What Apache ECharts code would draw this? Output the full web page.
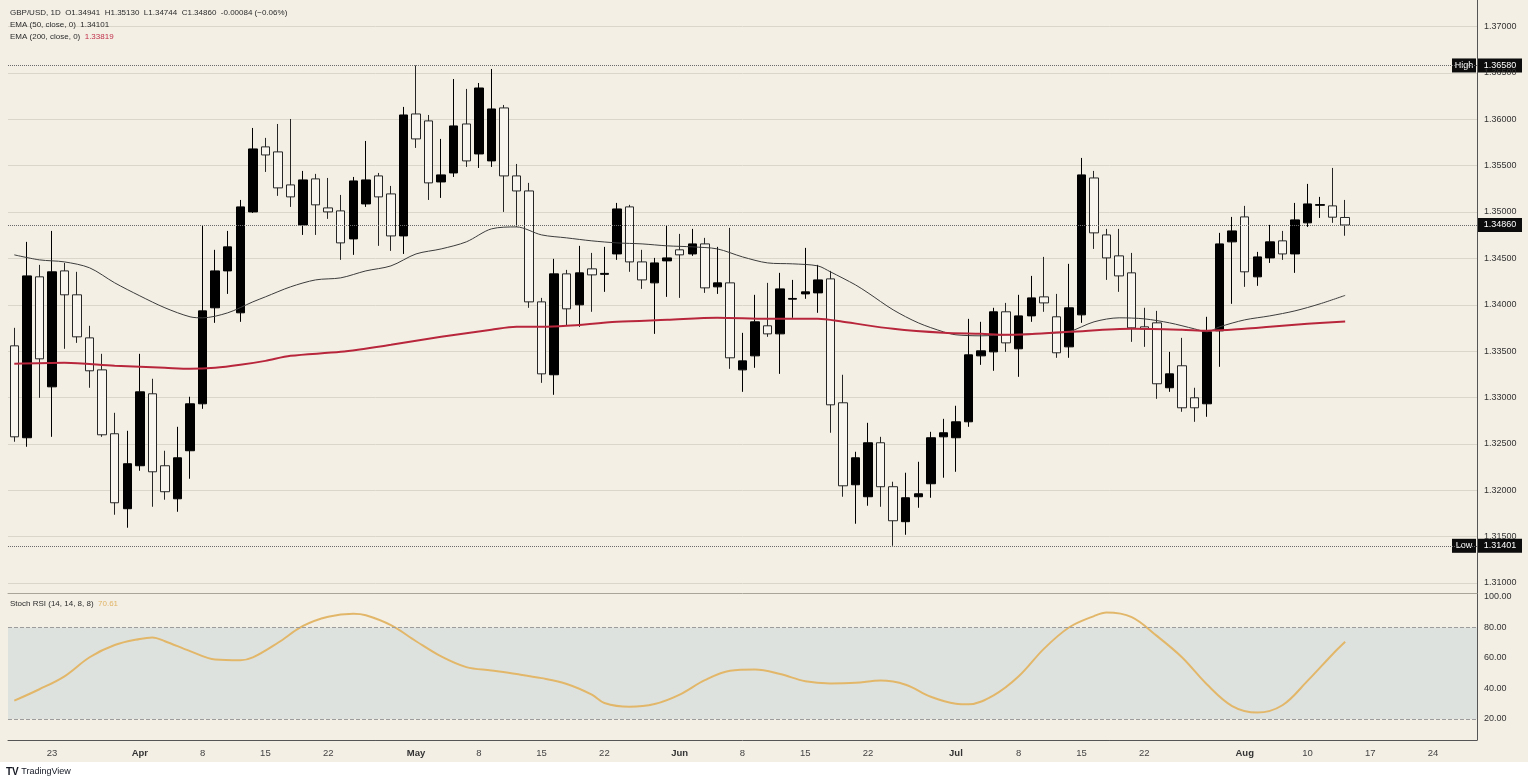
<!DOCTYPE html>
<html>
<head>
<meta charset="utf-8">
<title>GBP/USD 1D</title>
<script src="https://cdn.jsdelivr.net/npm/echarts@6/dist/echarts.min.js"></script>
<style>
  html, body { margin: 0; padding: 0; background: #fff; }
  #chart { width: 1528px; height: 784px; }
</style>
</head>
<body>
<div id="chart"></div>
<script>
// daily candles, oldest first
const opens = [
  1.33557, 1.32566, 1.34301, 1.33115, 1.34365, 1.34107, 1.33643, 1.33298, 1.32609, 1.31801,
  1.32264, 1.33040, 1.32264, 1.31908, 1.32426, 1.32932, 1.33967, 1.34365, 1.33913, 1.35001,
  1.35702, 1.35648, 1.35292, 1.34861, 1.35357, 1.35044, 1.35012, 1.34710, 1.35087, 1.35389,
  1.35195, 1.34742, 1.36057, 1.35982, 1.35324, 1.35421, 1.35949, 1.35626, 1.35551, 1.36122,
  1.35389, 1.35227, 1.34031, 1.33245, 1.34333, 1.33999, 1.34387, 1.34328, 1.34548, 1.35055,
  1.34462, 1.34236, 1.34473, 1.34592, 1.34548, 1.34656, 1.34193, 1.34236, 1.33298, 1.33449,
  1.33773, 1.33686, 1.34060, 1.34117, 1.34128, 1.34279, 1.32943, 1.32059, 1.31930, 1.32512,
  1.32038, 1.31661, 1.31930, 1.32070, 1.32576, 1.32566, 1.32738, 1.33449, 1.33492, 1.33924,
  1.33525, 1.33880, 1.34085, 1.33870, 1.33546, 1.33891, 1.35367, 1.34753, 1.34527, 1.34344,
  1.33762, 1.33805, 1.33105, 1.33342, 1.32997, 1.32932, 1.33719, 1.34678, 1.34947, 1.34301,
  1.34505, 1.34689, 1.34548, 1.34883, 1.35072, 1.35066, 1.34941
];
const closes = [
  1.32576, 1.34311, 1.33417, 1.34355, 1.34107, 1.33654, 1.33288, 1.32598, 1.31865, 1.32286,
  1.33061, 1.32199, 1.31984, 1.32350, 1.32932, 1.33934, 1.34365, 1.34624, 1.35055, 1.35680,
  1.35615, 1.35260, 1.35163, 1.35346, 1.35077, 1.35001, 1.34667, 1.35335, 1.35346, 1.35163,
  1.34742, 1.36046, 1.35788, 1.35314, 1.35400, 1.35928, 1.35551, 1.36337, 1.36111, 1.35389,
  1.35227, 1.34031, 1.33255, 1.34333, 1.33956, 1.34344, 1.34322, 1.34338, 1.35033, 1.34462,
  1.34268, 1.34451, 1.34505, 1.34538, 1.34656, 1.34182, 1.34236, 1.33428, 1.33395, 1.33816,
  1.33686, 1.34171, 1.34068, 1.34139, 1.34268, 1.32921, 1.32048, 1.32350, 1.32512, 1.32038,
  1.31671, 1.31919, 1.31962, 1.32566, 1.32620, 1.32738, 1.33460, 1.33503, 1.33924, 1.33589,
  1.33880, 1.34074, 1.34020, 1.33482, 1.33967, 1.35400, 1.34775, 1.34505, 1.34311, 1.33751,
  1.33740, 1.33148, 1.33255, 1.32889, 1.32889, 1.33708, 1.34656, 1.34796, 1.34355, 1.34516,
  1.34678, 1.34548, 1.34915, 1.35087, 1.35080, 1.34944, 1.34860
];
const lows = [
  1.32523, 1.32469, 1.32997, 1.32576, 1.33525, 1.33589, 1.33105, 1.32576, 1.31736, 1.31596,
  1.32210, 1.31822, 1.31898, 1.31768, 1.32124, 1.32878, 1.33805, 1.34117, 1.33816, 1.34990,
  1.35432, 1.35174, 1.35055, 1.34753, 1.34753, 1.34926, 1.34484, 1.34538, 1.35055, 1.34635,
  1.34581, 1.34548, 1.35691, 1.35130, 1.35152, 1.35378, 1.35486, 1.35475, 1.35486, 1.35001,
  1.34839, 1.33967, 1.33158, 1.33029, 1.33773, 1.33762, 1.33924, 1.34139, 1.34484, 1.34355,
  1.34171, 1.33686, 1.34085, 1.34074, 1.34527, 1.34128, 1.34117, 1.33309, 1.33061, 1.33320,
  1.33654, 1.33255, 1.33859, 1.34064, 1.33913, 1.32620, 1.31930, 1.31639, 1.31833, 1.31822,
  1.31401, 1.31520, 1.31811, 1.31919, 1.32135, 1.32199, 1.32684, 1.33352, 1.33288, 1.33492,
  1.33223, 1.33816, 1.33924, 1.33428, 1.33428, 1.33805, 1.34602, 1.34268, 1.34139, 1.33600,
  1.33546, 1.32986, 1.33061, 1.32846, 1.32738, 1.32792, 1.33331, 1.34010, 1.34193, 1.34204,
  1.34451, 1.34484, 1.34344, 1.34839, 1.34936, 1.34883, 1.34744
];
const highs = [
  1.33751, 1.34678, 1.34430, 1.34796, 1.34451, 1.34355, 1.33773, 1.33471, 1.32835, 1.32641,
  1.33471, 1.33202, 1.32426, 1.32684, 1.33008, 1.34850, 1.34592, 1.34796, 1.35130, 1.35906,
  1.35799, 1.35949, 1.36003, 1.35443, 1.35411, 1.35367, 1.35184, 1.35378, 1.35766, 1.35421,
  1.35281, 1.36133, 1.36580, 1.36046, 1.35788, 1.36434, 1.36327, 1.36391, 1.36542, 1.36154,
  1.35518, 1.35314, 1.34074, 1.34495, 1.34376, 1.34635, 1.34559, 1.34624, 1.35098, 1.35077,
  1.34592, 1.34505, 1.34850, 1.34764, 1.34818, 1.34721, 1.34624, 1.34829, 1.33697, 1.34107,
  1.34236, 1.34344, 1.34268, 1.34613, 1.34430, 1.34365, 1.33245, 1.32415, 1.32727, 1.32576,
  1.32092, 1.32189, 1.32307, 1.32630, 1.32770, 1.32911, 1.33848, 1.33816, 1.33967, 1.34020,
  1.34107, 1.34311, 1.34516, 1.34117, 1.34441, 1.35583, 1.35443, 1.34818, 1.34818, 1.34559,
  1.33967, 1.33934, 1.33492, 1.33643, 1.33105, 1.33870, 1.34775, 1.34947, 1.35066, 1.34570,
  1.34861, 1.34796, 1.35098, 1.35303, 1.35163, 1.35475, 1.35130
];

// moving averages (candle index -> value)
const ema50Idx = [0, 2, 4, 6, 8, 10, 12, 14, 15, 17, 19, 20, 22, 24, 26, 28, 30, 32, 34, 36,
  38, 40, 42, 44, 46, 48, 50, 52, 54, 56, 58, 60, 62, 64, 65, 67, 68, 70, 72, 74,
  75, 77, 79, 81, 83, 84, 86, 88, 90, 92, 94, 95, 96, 98, 100, 102, 104, 106];
const ema50Val = [1.34538, 1.34484, 1.34462, 1.34398, 1.34236, 1.34096, 1.33967, 1.33870, 1.33859, 1.33913,
  1.34031, 1.34085, 1.34193, 1.34268, 1.34290, 1.34365, 1.34419, 1.34548, 1.34602, 1.34678,
  1.34818, 1.34839, 1.34753, 1.34721, 1.34689, 1.34667, 1.34656, 1.34635, 1.34624, 1.34602,
  1.34516, 1.34451, 1.34441, 1.34419, 1.34355, 1.34214, 1.34128, 1.33945, 1.33805, 1.33708,
  1.33676, 1.33665, 1.33676, 1.33686, 1.33697, 1.33708, 1.33816, 1.33859, 1.33848, 1.33805,
  1.33740, 1.33708, 1.33762, 1.33837, 1.33880, 1.33934, 1.34010, 1.34101];
const ema200Idx = [0, 4, 8, 12, 14, 16, 18, 20, 22, 26, 30, 34, 38, 40, 42, 44, 48, 52, 56, 60,
  64, 66, 70, 74, 77, 79, 84, 89, 93, 95, 98, 100, 103, 106];
const ema200Val = [1.33363, 1.33374, 1.33342, 1.33320, 1.33309, 1.33320, 1.33352, 1.33395, 1.33449, 1.33492,
  1.33568, 1.33654, 1.33730, 1.33762, 1.33762, 1.33773, 1.33816, 1.33837, 1.33859, 1.33848,
  1.33848, 1.33816, 1.33740, 1.33697, 1.33686, 1.33676, 1.33708, 1.33740, 1.33730, 1.33719,
  1.33740, 1.33762, 1.33794, 1.33819];

// stoch rsi, sampled
const rsiIdx = [0, 2, 4, 6, 8, 10, 11, 12, 14, 16, 18, 19, 21, 23, 25, 27, 28, 30, 32, 34,
  36, 38, 40, 42, 44, 46, 47, 49, 51, 53, 55, 57, 59, 61, 63, 65, 67, 69, 71, 73,
  75, 76, 78, 80, 82, 84, 86, 87, 89, 91, 93, 95, 97, 99, 101, 103, 105, 106];
const rsiVal = [32, 39.5, 48, 60.5, 68.5, 72.5, 73.5, 71, 64.5, 59,
  58.5, 60.4, 70, 81, 87, 89, 88, 81.5, 71, 61,
  54, 51.8, 49.5, 46.8, 43, 36, 30.5, 28, 29.8, 36,
  45.5, 51.7, 52.5, 49.5, 44.7, 43.3, 43.7, 45.2, 42.5, 34.6,
  30, 29.6, 35.5, 48, 66, 80, 87.5, 89.8, 86.8, 74.5,
  60.5, 42.6, 28.5, 24.2, 29, 45, 62.5, 70.61];

// date axis labels (slot index -> text)
const xTickIdx = [3, 10, 15, 20, 25, 32, 37, 42, 47, 53, 58, 63, 68, 75, 80, 85, 90, 98, 103, 108, 113];
const xTickText = ['23', 'Apr', '8', '15', '22', 'May', '8', '15', '22', 'Jun', '8', '15', '22',
  'Jul', '8', '15', '22', 'Aug', '10', '17', '24'];
const monthNames = ['Apr', 'May', 'Jun', 'Jul', 'Aug'];

const slotCount = 117;   // candles plus empty space on the right
const rsiBand = [20, 80];

const FONT = 'Liberation Sans, Arial, sans-serif';
const BG = '#f3efe5';
const gridLeft = 8, gridRight = 51;

const n = opens.length;
const last = n - 1;
const sessionHigh = Math.max(...highs);
const sessionLow = Math.min(...lows);
const lastClose = closes[last];

const slots = Array.from({ length: slotCount }, (_, i) => String(i));
const candles = opens.map((o, i) => [o, closes[i], lows[i], highs[i]]);

function sparse(idx, vals) {
  const out = new Array(n).fill(null);
  idx.forEach((k, j) => { out[k] = vals[j]; });
  return out;
}

const change = closes[last] - closes[last - 1];
const pct = change / closes[last - 1] * 100;
const fmt = v => v.toFixed(5);
const headerText = 'GBP/USD, 1D  O' + fmt(opens[last]) + '  H' + fmt(highs[last]) +
  '  L' + fmt(lows[last]) + '  C' + fmt(closes[last]) + '  ' +
  (change < 0 ? '-' : '+') + Math.abs(change).toFixed(5) +
  ' (' + (pct < 0 ? '\u2212' : '+') + Math.abs(pct).toFixed(2) + '%)';

const labelMap = {};
xTickIdx.forEach((k, j) => { labelMap[k] = xTickText[j]; });

const smallText = { fontFamily: FONT, fontSize: 8, fontWeight: 'normal', color: '#2b2b2b' };

const option = {
  animation: false,
  backgroundColor: BG,
  title: [
    { left: 10, top: 9, padding: 0, text: headerText, textStyle: smallText },
    { left: 10, top: 21, padding: 0, text: 'EMA (50, close, 0)  ' + fmt(ema50Val[ema50Val.length - 1]), textStyle: smallText },
    {
      left: 10, top: 33, padding: 0,
      text: '{a|EMA (200, close, 0)}  {b|' + fmt(ema200Val[ema200Val.length - 1]) + '}',
      textStyle: Object.assign({}, smallText, { rich: { a: smallText, b: Object.assign({}, smallText, { color: '#c0304a' }) } })
    },
    {
      left: 10, top: 600, padding: 0,
      text: '{a|Stoch RSI (14, 14, 8, 8)}  {b|' + rsiVal[rsiVal.length - 1].toFixed(2) + '}',
      textStyle: Object.assign({}, smallText, { rich: { a: smallText, b: Object.assign({}, smallText, { color: '#e0b466' }) } })
    },
    {
      left: 6, top: 767, padding: 0,
      text: '{l|TV} TradingView',
      textStyle: { fontFamily: FONT, fontSize: 9, fontWeight: 'normal', color: '#131722',
        rich: { l: { fontFamily: FONT, fontSize: 10, fontWeight: 'bold', color: '#131722' } } }
    }
  ],
  grid: [
    { left: gridLeft, right: gridRight, top: 26.5, height: 556.5 },
    { left: gridLeft, right: gridRight, top: 597, height: 122 },
    { left: gridLeft, right: gridRight, top: 0, height: 740 }
  ],
  xAxis: [
    {
      type: 'category', gridIndex: 0, data: slots, boundaryGap: true,
      offset: 10,
      axisLine: { show: true, lineStyle: { color: '#a9a599', width: 1 } },
      axisTick: { show: false }, axisLabel: { show: false }, splitLine: { show: false }
    },
    {
      type: 'category', gridIndex: 1, data: slots, boundaryGap: true,
      offset: 21,
      axisLine: { show: true, lineStyle: { color: '#555', width: 1 } },
      axisTick: { show: false }, splitLine: { show: false },
      axisLabel: {
        interval: (index) => labelMap[index] !== undefined,
        formatter: (value, index) => {
          const t = labelMap[index];
          if (t === undefined) return '';
          return monthNames.includes(t) ? '{m|' + t + '}' : t;
        },
        fontFamily: FONT, fontSize: 9.5, color: '#444', margin: 8,
        rich: { m: { fontFamily: FONT, fontSize: 9.5, fontWeight: 'bold', color: '#333' } }
      }
    },
    { type: 'category', gridIndex: 2, data: slots, show: false }
  ],
  yAxis: [
    {
      type: 'value', gridIndex: 0, position: 'right',
      min: 1.31, max: 1.37, interval: 0.005,
      axisLine: { show: false }, axisTick: { show: false },
      axisLabel: { formatter: v => v.toFixed(5), fontFamily: FONT, fontSize: 9, color: '#333', margin: 7 },
      splitLine: { show: true, lineStyle: { color: '#dbd6ca', width: 1 } }
    },
    {
      type: 'value', gridIndex: 1, position: 'right',
      min: 20, max: 100, interval: 20,
      axisLine: { show: false }, axisTick: { show: false },
      axisLabel: { formatter: v => v.toFixed(2), fontFamily: FONT, fontSize: 9, color: '#333', margin: 7 },
      splitLine: { show: true, lineStyle: { color: ['transparent', '#c6cac6', '#c6cac6', 'transparent', 'transparent'], width: 1 } }
    },
    {
      type: 'value', gridIndex: 2, position: 'right',
      axisLine: { show: true, lineStyle: { color: '#555', width: 1 } },
      axisTick: { show: false }, axisLabel: { show: false }, splitLine: { show: false }
    }
  ],
  series: [
    {
      name: 'GBP/USD', type: 'candlestick', xAxisIndex: 0, yAxisIndex: 0,
      data: candles, barWidth: 9,
      itemStyle: { color: '#000', color0: '#f8f5ee', borderColor: '#000', borderColor0: '#262626', borderWidth: 1 },
      markLine: {
        silent: true, symbol: 'none', precision: 5,
        label: { show: false },
        lineStyle: { type: 'dotted', color: '#6a6a6a', width: 1 },
        data: [{ yAxis: sessionHigh }, { yAxis: sessionLow }, { yAxis: lastClose }]
      }
    },
    {
      name: 'EMA 50', type: 'line', xAxisIndex: 0, yAxisIndex: 0,
      data: sparse(ema50Idx, ema50Val), connectNulls: true, smooth: 0.3,
      showSymbol: false, symbol: 'none',
      lineStyle: { color: '#3c3c3c', width: 1 }
    },
    {
      name: 'EMA 200', type: 'line', xAxisIndex: 0, yAxisIndex: 0,
      data: sparse(ema200Idx, ema200Val), connectNulls: true, smooth: 0.3,
      showSymbol: false, symbol: 'none',
      lineStyle: { color: '#b8263c', width: 2 }
    },
    {
      name: 'Stoch RSI', type: 'line', xAxisIndex: 1, yAxisIndex: 1,
      data: sparse(rsiIdx, rsiVal), connectNulls: true, smooth: 0.35,
      showSymbol: false, symbol: 'none',
      lineStyle: { color: '#e2b76a', width: 2 },
      markArea: {
        silent: true,
        itemStyle: { color: '#dde2df' },
        data: [[{ yAxis: rsiBand[0] }, { yAxis: rsiBand[1] }]]
      },
      markLine: {
        silent: true, symbol: 'none', label: { show: false },
        lineStyle: { type: 'dashed', color: '#9c9c9c', width: 1 },
        data: [{ yAxis: rsiBand[0] }, { yAxis: rsiBand[1] }]
      }
    }
  ]
};

const chart = echarts.init(document.getElementById('chart'));
chart.setOption(option);

// price tags on the right axis, placed through the axis scale
const axisX = chart.getWidth() - gridRight;
function tagBox(x, y, w, text) {
  return {
    type: 'group', z: 100,
    children: [
      { type: 'rect', shape: { x: x, y: y - 7, width: w, height: 14 }, style: { fill: '#0c0c0c' } },
      {
        type: 'text', x: x + w / 2, y: y,
        style: { text: text, fill: '#fff', font: '9px ' + FONT, textAlign: 'center', textVerticalAlign: 'middle' }
      }
    ]
  };
}
const yHigh = chart.convertToPixel({ yAxisIndex: 0 }, sessionHigh);
const yLow = chart.convertToPixel({ yAxisIndex: 0 }, sessionLow);
const yLast = chart.convertToPixel({ yAxisIndex: 0 }, lastClose);

chart.setOption({
  graphic: [
    { type: 'rect', z: 0, shape: { x: 0, y: 762, width: chart.getWidth(), height: chart.getHeight() - 762 }, style: { fill: '#fff' } },
    tagBox(axisX - 25, yHigh, 24, 'High'),
    tagBox(axisX + 1, yHigh, 44, fmt(sessionHigh)),
    tagBox(axisX - 25, yLow, 24, 'Low'),
    tagBox(axisX + 1, yLow, 44, fmt(sessionLow)),
    tagBox(axisX + 1, yLast, 44, fmt(lastClose))
  ]
});

window.addEventListener('resize', () => chart.resize());
</script>
</body>
</html>
